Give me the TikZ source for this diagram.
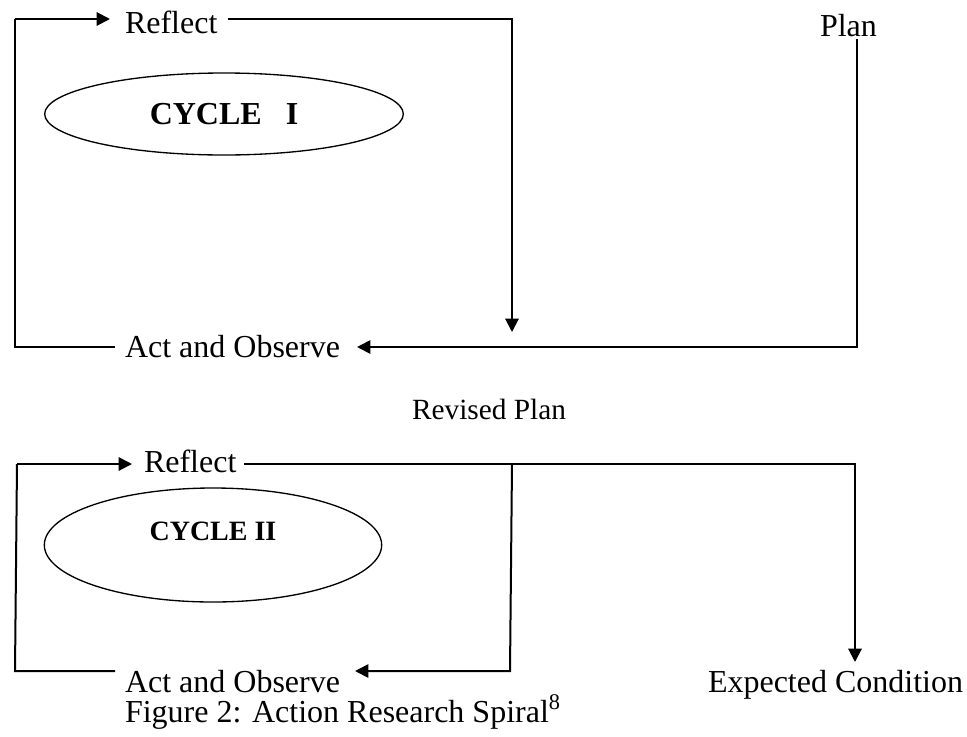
\documentclass[tikz,border=0pt]{standalone}
\usepackage{fontspec}
\setmainfont{Liberation Serif}
\usetikzlibrary{arrows.meta}
\usetikzlibrary{shapes.geometric}

\begin{document}
\begin{tikzpicture}[x=0.75pt,y=-0.75pt,line width=1.5pt,
  lbl/.style={inner sep=0,anchor=base west,font=\fontsize{24}{28}\selectfont},
  cyc/.style={draw,ellipse,line width=1pt,inner sep=0},
  arr/.style={-{Triangle[length=10pt,width=10pt]}}]
  \useasboundingbox (0,0) rectangle (967,736);
  \node (rf1) [lbl] at (124,33) {Reflect};
  \node (pl) [lbl] at (819,36) {Plan};
  \node (ao1) [lbl] at (124,357) {Act and Observe};
  \node (cy1) [cyc,minimum width=269pt,minimum height=61.5pt,
    font=\bfseries\fontsize{24}{28}\selectfont] at (224,114) {CYCLE\ \ \ I};
  \node (rp) [lbl,font=\fontsize{22}{26}\selectfont] at (411,419) {Revised Plan};
  \node (rf2) [lbl] at (143,472) {Reflect};
  \node (ao2) [lbl] at (124,692) {Act and Observe};
  \node (ec) [lbl] at (707,692) {Expected Condition};
  \node (cap) [lbl] at (124,722) {Figure 2: Action Research Spiral\textsuperscript{8}};
  \node (cy2) [cyc,minimum width=253pt,minimum height=85.5pt,
    label={[yshift=10pt,font=\bfseries\fontsize{21}{25}\selectfont]center:CYCLE II}]
    at (213,545) {};
  \coordinate (lt1) at (15,19);
  \coordinate (lb1) at (15,347);
  \coordinate (dn1) at (512,332);
  \coordinate (pt1) at (857,39);
  \coordinate (pb1) at (857,347);
  \draw[arr,shorten >=10.5pt] (lt1) -- (lt1 -| rf1.west);
  \draw[arr,shorten <=7pt] (rf1.east |- lt1) -| (dn1);
  \draw[arr,shorten >=12pt] (pt1) -- (pb1) -- (pb1 -| ao1.east);
  \draw[shorten >=6.75pt] (lt1) -- (lb1) -- (lb1 -| ao1.west);
  \coordinate (lt2) at (17,464);
  \coordinate (lb2) at (15,671);
  \coordinate (mt2) at (512,464);
  \coordinate (mb2) at (510,671);
  \coordinate (dn2) at (855,662);
  \draw[arr,shorten >=8.25pt] (lt2) -- (lt2 -| rf2.west);
  \draw[arr,shorten <=5pt] (rf2.east |- lt2) -| (dn2);
  \draw[arr,shorten >=10.5pt] (mt2) -- (mb2) -- (mb2 -| ao2.east);
  \draw[shorten >=6.75pt] (lt2) -- (lb2) -- (lb2 -| ao2.west);
\end{tikzpicture}
\end{document}
